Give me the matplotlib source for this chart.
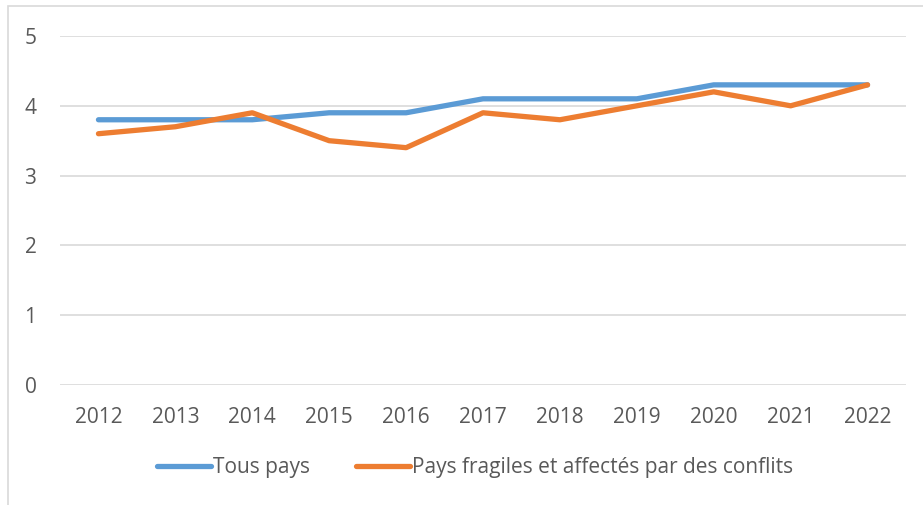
import matplotlib
matplotlib.use("Agg")
import matplotlib.pyplot as plt
from matplotlib.patches import Rectangle

years = ["2012", "2013", "2014", "2015", "2016", "2017", "2018", "2019", "2020", "2021", "2022"]
tous_pays = [3.8, 3.8, 3.8, 3.9, 3.9, 4.1, 4.1, 4.1, 4.3, 4.3, 4.3]
pays_fragiles = [3.6, 3.7, 3.9, 3.5, 3.4, 3.9, 3.8, 4.0, 4.2, 4.0, 4.3]

plt.rcParams["font.family"] = ["Open Sans", "DejaVu Sans"]
txt = "#595959"
grid = "#D9D9D9"

fig = plt.figure(figsize=(9.23, 5.05), dpi=100)
ax = fig.add_axes([60/923, 1-385/505, (906-60)/923, (385-36)/505])

x = range(len(years))
ax.plot(x, tous_pays, color="#5B9BD5", lw=3.8, solid_capstyle="round",
        solid_joinstyle="round", label="Tous pays", zorder=3)
ax.plot(x, pays_fragiles, color="#ED7D31", lw=3.8, solid_capstyle="round",
        solid_joinstyle="round", label="Pays fragiles et affectés par des conflits", zorder=4)

ax.set_xlim(-0.5, len(years) - 0.5)
ax.set_ylim(0, 5)
ax.set_yticks(range(6))
ax.set_xticks(list(x))
ax.set_xticklabels(years)
ax.yaxis.grid(True, color=grid, lw=1.2)
ax.set_axisbelow(True)
for s in ax.spines.values():
    s.set_visible(False)
ax.tick_params(length=0, labelsize=15, colors=txt)
ax.tick_params(axis="y", pad=17)
ax.tick_params(axis="x", pad=16)

leg = fig.legend(loc="center", bbox_to_anchor=(0.515, 1-468/505), ncol=2, frameon=False,
                 fontsize=15, handlelength=2.6, handletextpad=0.1, columnspacing=2.2)
for t in leg.get_texts():
    t.set_color(txt)

# outer chart border (cropped on right and bottom)
fig.add_artist(Rectangle((8/923, -0.1), 1.2, 1.1 - 6/505, transform=fig.transFigure,
                         fill=False, edgecolor=grid, lw=1.2))

fig.savefig("out.png", dpi=100)
